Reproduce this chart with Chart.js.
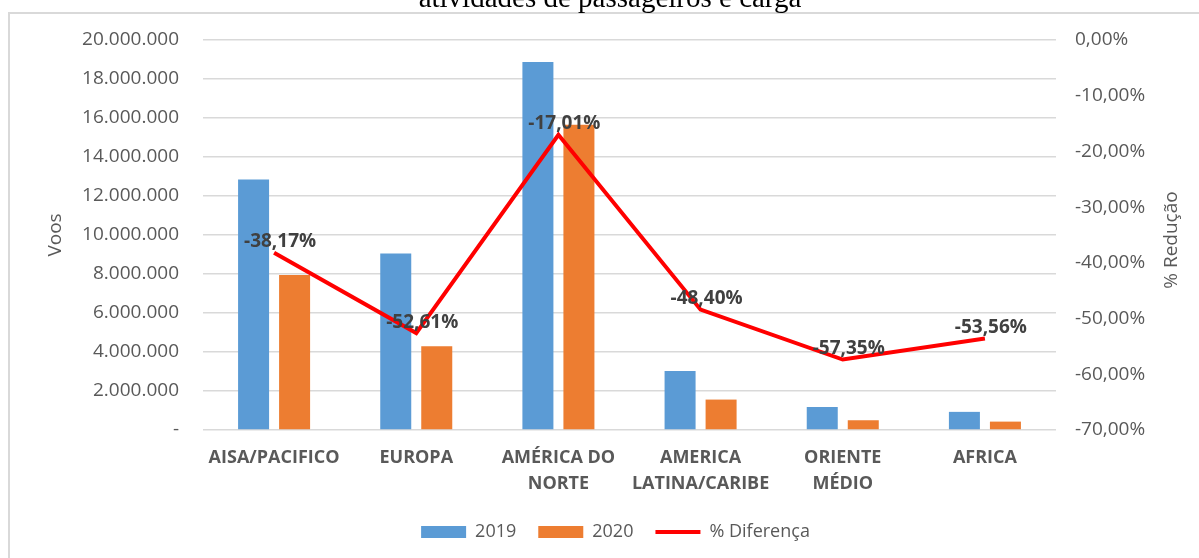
<!DOCTYPE html>
<html>
<head>
<meta charset="utf-8">
<script src="https://cdn.jsdelivr.net/npm/chart.js@4.4.0/dist/chart.umd.min.js"></script>
<style>
  html, body { margin: 0; padding: 0; background: #fff; overflow: hidden; }
</style>
</head>
<body>
<canvas id="chart" width="1199" height="558"></canvas>
<script>
// dados
const categories = ['AISA/PACIFICO', 'EUROPA', ['AMÉRICA DO', 'NORTE'], ['AMERICA', 'LATINA/CARIBE'], ['ORIENTE', 'MÉDIO'], 'AFRICA'];
const voos2019 = [12850000, 9050000, 18870000, 3030000, 1180000, 930000];
const voos2020 = [7950000, 4290000, 15660000, 1560000, 500000, 430000];
const diferenca = [-38.17, -52.61, -17.01, -48.40, -57.35, -53.56];

const GRAY = '#595959';
const FONT = "'Open Sans', sans-serif";

function fmtVoos(v) {
  if (v === 0) return '-';
  return String(Math.round(v)).replace(/\B(?=(\d{3})+(?!\d))/g, '.');
}
function fmtPct(v) {
  return (Math.abs(v) < 1e-9 ? 0 : v).toFixed(2).replace('.', ',') + '%';
}

Chart.defaults.font.family = FONT;
Chart.defaults.color = GRAY;

// moldura, titulo cortado, titulo do eixo direito e rotulos
const extras = {
  id: 'extras',
  beforeDraw(chart) {
    const c = chart.ctx;
    c.save();
    c.fillStyle = '#fff';
    c.fillRect(0, 0, chart.width, chart.height);
    c.strokeStyle = '#d9d9d9';
    c.lineWidth = 2;
    c.beginPath();
    c.moveTo(9, chart.height);
    c.lineTo(9, 13);
    c.lineTo(chart.width, 13);
    c.stroke();
    c.fillStyle = '#000';
    c.font = "29px 'Liberation Serif', serif";
    c.textAlign = 'center';
    c.textBaseline = 'alphabetic';
    c.fillText('atividades de passageiros e carga', 610, 7);
    c.restore();
  },
  afterDraw(chart) {
    const c = chart.ctx;
    const y1 = chart.scales.y1;
    c.save();
    c.translate(1172, (y1.top + y1.bottom) / 2 + 5);
    c.rotate(-Math.PI / 2);
    c.font = '19px ' + FONT;
    c.fillStyle = GRAY;
    c.textAlign = 'center';
    c.textBaseline = 'middle';
    c.fillText('% Redução', 0, 0);
    c.restore();
  },
  afterDatasetsDraw(chart) {
    const c = chart.ctx;
    const meta = chart.getDatasetMeta(2);
    c.save();
    c.font = 'bold 19px ' + FONT;
    c.fillStyle = '#404040';
    c.textAlign = 'center';
    c.textBaseline = 'middle';
    meta.data.forEach((pt, i) => {
      c.fillText(fmtPct(diferenca[i]), pt.x + 6, pt.y - 11);
    });
    c.restore();
  }
};

const chart = new Chart(document.getElementById('chart'), {
  type: 'bar',
  data: {
    labels: categories,
    datasets: [
      { label: '2019', data: voos2019, backgroundColor: '#5b9bd5', yAxisID: 'y', order: 1,
        categoryPercentage: 0.577, barPercentage: 0.756, pointStyle: 'rect' },
      { label: '2020', data: voos2020, backgroundColor: '#ed7d31', yAxisID: 'y', order: 1,
        categoryPercentage: 0.577, barPercentage: 0.756, pointStyle: 'rect' },
      { type: 'line', label: '% Diferença', data: diferenca, yAxisID: 'y1', order: 0,
        borderColor: '#ff0000', backgroundColor: '#ff0000', borderWidth: 4, pointRadius: 0,
        tension: 0, fill: false, pointStyle: 'line' }
    ]
  },
  options: {
    responsive: false,
    animation: false,
    layout: { padding: { left: 32, right: 0, top: 40, bottom: 7 } },
    plugins: {
      legend: {
        position: 'bottom',
        labels: {
          usePointStyle: true, pointStyleWidth: 45, boxHeight: 12,
          padding: 22, color: GRAY, font: { size: 18 },
          sort: (a, b) => a.datasetIndex - b.datasetIndex
        }
      },
      tooltip: { enabled: false }
    },
    scales: {
      x: {
        grid: { display: false, drawTicks: false },
        border: { display: false },
        ticks: { color: GRAY, font: { size: 18, weight: 'bold', lineHeight: 1.45 }, padding: 15, maxRotation: 0, autoSkip: false },
        afterFit(s) { s.height = 71; }
      },
      y: {
        position: 'left',
        min: 0, max: 20000000,
        ticks: { stepSize: 2000000, callback: fmtVoos, color: GRAY, font: { size: 19 }, padding: 24 },
        grid: { color: '#d9d9d9', lineWidth: 1.5, drawTicks: false },
        border: { display: false },
        title: { display: true, text: 'Voos', color: GRAY, font: { size: 19 }, padding: { top: 12, bottom: 0 } },
        afterFit(s) { s.width = 171; }
      },
      y1: {
        position: 'right',
        min: -70, max: 0,
        ticks: { stepSize: 10, callback: fmtPct, color: GRAY, font: { size: 19 }, padding: 19 },
        grid: { display: false, drawTicks: false },
        border: { display: false },
        afterFit(s) { s.width = 143; }
      }
    }
  },
  plugins: [extras]
});
</script>
</body>
</html>
